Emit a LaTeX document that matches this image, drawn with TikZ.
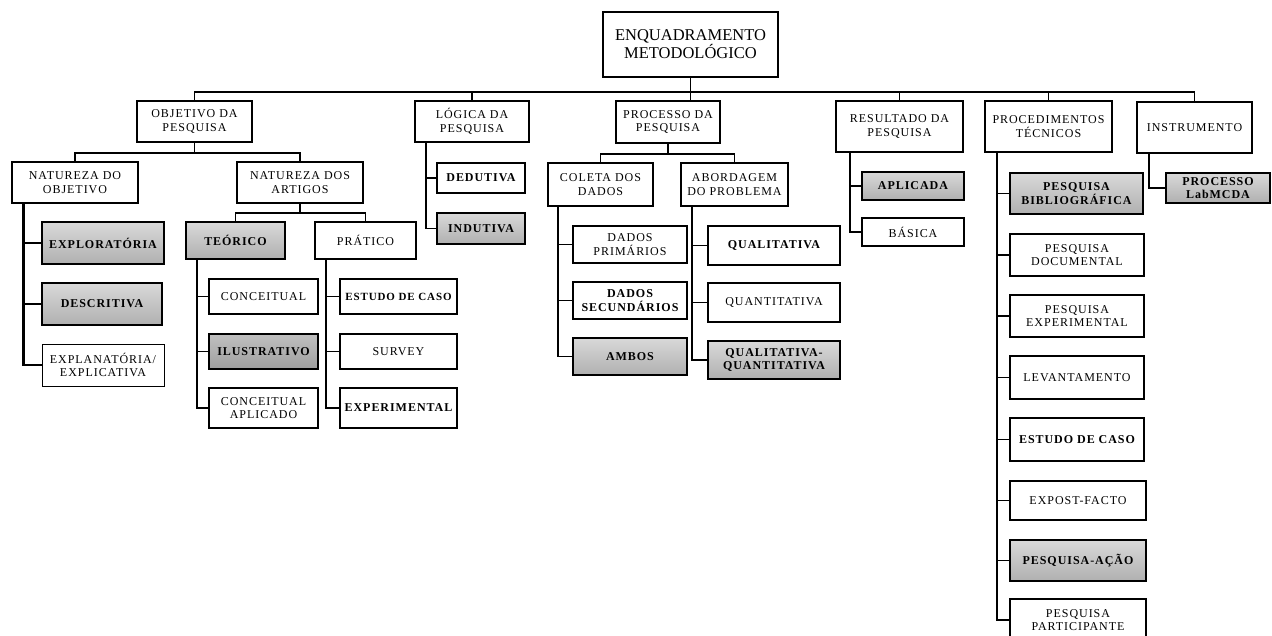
\documentclass[tikz,border=0pt]{standalone}
\usepackage{fontspec}
\setmainfont{Liberation Serif}
\newfontfamily\caixafont[LetterSpace=8]{Liberation Serif}
\usetikzlibrary{shadings}
\usepackage{xcolor}
\colorlet{cinzatopo}{gray!30!white}
\colorlet{cinzabase}{gray!62!white}
\colorlet{escurotopo}{gray!50!white}
\colorlet{escurobase}{gray!75!white}

\begin{document}
\begin{tikzpicture}[x=1pt,y=-1pt,
  caixa/.style={draw=black,line width=1.7pt,fill=white,align=center,inner sep=0pt,
    font=\caixafont\fontsize{12}{13.5}\selectfont},
  negrito/.style={caixa,font=\caixafont\bfseries\fontsize{12}{13.5}\selectfont},
  cinza/.style={negrito,line width=2pt,top color=cinzatopo,bottom color=cinzabase},
  cinzaescuro/.style={negrito,line width=2pt,top color=escurotopo,bottom color=escurobase},
  ligacao/.style={draw=black,line width=1.6pt},
  ligacaogrossa/.style={draw=black,line width=2.8pt}]

  \fill[white] (0,0) rectangle (1272,635);
  \useasboundingbox (0,0) rectangle (1272,635);

%  Raiz
  \node[caixa,minimum width=175pt,minimum height=65pt,font=\fontsize{16.5}{16}\selectfont] (root) at (690.5,44.5) {ENQUADRAMENTO\\METODOLÓGICO};
  \coordinate (barra) at (690.5,92);

%  Primeiro nivel
  \node[caixa,minimum width=115pt,minimum height=41pt] (obj) at (194.5,121.5) {OBJETIVO DA\\PESQUISA};
  \node[caixa,minimum width=114pt,minimum height=41pt] (log) at (472,121.5) {LÓGICA DA\\PESQUISA};
  \node[caixa,minimum width=104pt,minimum height=42pt] (proc) at (668,122) {PROCESSO DA\\PESQUISA};
  \node[caixa,minimum width=127pt,minimum height=51pt] (res) at (899.5,126.5) {RESULTADO DA\\PESQUISA};
  \node[caixa,minimum width=127pt,minimum height=51pt] (pt) at (1048.5,126.5) {PROCEDIMENTOS\\TÉCNICOS};
  \node[caixa,minimum width=115pt,minimum height=51pt] (inst) at (1194.5,127.5) {INSTRUMENTO};

  \draw[ligacao] (root.south) -- (barra);
  \draw[ligacao] (obj.north) |- (barra) -| (inst.north);
  \draw[ligacao] (log.north) -- (log.north |- barra);
  \draw[ligacao] (barra) -- (barra |- proc.north);
  \draw[ligacao] (res.north) -- (res.north |- barra);
  \draw[ligacao] (pt.north) -- (pt.north |- barra);

%  Objetivo da pesquisa
  \node[caixa,minimum width=126pt,minimum height=41pt] (nobj) at (75,182.5) {NATUREZA DO\\OBJETIVO};
  \node[caixa,minimum width=126pt,minimum height=41pt] (nart) at (300,182.5) {NATUREZA DOS\\ARTIGOS};
  \draw[ligacao] (obj.south) -- ++(0,10) coordinate (objb);
  \draw[ligacao] (nobj.north) |- (objb) -| (nart.north);

  \node[cinza,minimum width=122pt,minimum height=42pt] (expl) at (103,243) {EXPLORATÓRIA};
  \node[cinza,minimum width=120pt,minimum height=42pt] (desc) at (102,304) {DESCRITIVA};
  \node[caixa,line width=1pt,minimum width=122pt,minimum height=42pt] (expa) at (103,365) {EXPLANATÓRIA/\\EXPLICATIVA};
  \coordinate (nobje) at ([xshift=12pt]nobj.south west);
  \draw[ligacaogrossa] (nobje) |- (expa.west);
  \draw[ligacaogrossa] (expl.west) -- (expl.west -| nobje);
  \draw[ligacaogrossa] (desc.west) -- (desc.west -| nobje);

  \node[cinza,minimum width=99pt,minimum height=37pt] (teo) at (235.5,240.5) {TEÓRICO};
  \node[caixa,minimum width=101pt,minimum height=37pt] (pra) at (365.5,240.5) {PRÁTICO};
  \draw[ligacao] (nart.south) -- ++(0,9) coordinate (nartb);
  \draw[ligacao] (teo.north) |- (nartb) -| (pra.north);

  \node[caixa,minimum width=109pt,minimum height=35pt] (conc) at (263.5,296.5) {CONCEITUAL};
  \node[cinzaescuro,minimum width=109pt,minimum height=35pt] (ilus) at (263.5,351.5) {ILUSTRATIVO};
  \node[caixa,minimum width=109pt,minimum height=40pt] (capl) at (263.5,408) {CONCEITUAL\\APLICADO};
  \coordinate (teoe) at ([xshift=12pt]teo.south west);
  \draw[ligacao] (teoe) |- (capl.west);
  \draw[ligacao] (conc.west) -- (conc.west -| teoe);
  \draw[ligacao] (ilus.west) -- (ilus.west -| teoe);

  \node[negrito,minimum width=117pt,minimum height=35pt,font=\caixafont\bfseries\fontsize{11}{13.5}\selectfont] (est1) at (398.5,296.5) {ESTUDO DE CASO};
  \node[caixa,minimum width=117pt,minimum height=35pt] (surv) at (398.5,351.5) {SURVEY};
  \node[negrito,minimum width=117pt,minimum height=40pt] (expm) at (398.5,408) {EXPERIMENTAL};
  \coordinate (prae) at ([xshift=12pt]pra.south west);
  \draw[ligacao] (prae) |- (expm.west);
  \draw[ligacao] (est1.west) -- (est1.west -| prae);
  \draw[ligacao] (surv.west) -- (surv.west -| prae);

%  Logica da pesquisa
  \node[negrito,minimum width=88pt,minimum height=30pt] (ded) at (481,178) {DEDUTIVA};
  \node[cinza,minimum width=88pt,minimum height=31pt] (ind) at (481,228.5) {INDUTIVA};
  \coordinate (loge) at ([xshift=12pt]log.south west);
  \draw[ligacao] (loge) |- (ind.west);
  \draw[ligacao] (ded.west) -- (ded.west -| loge);

%  Processo da pesquisa
  \node[caixa,minimum width=105pt,minimum height=43pt] (col) at (600.5,184.5) {COLETA DOS\\DADOS};
  \node[caixa,minimum width=107pt,minimum height=43pt] (abo) at (734.5,184.5) {ABORDAGEM\\DO PROBLEMA};
  \draw[ligacao] (proc.south) -- ++(0,10) coordinate (procb);
  \draw[ligacao] (col.north) |- (procb) -| (abo.north);

  \node[caixa,minimum width=114pt,minimum height=37pt] (dpri) at (630,244.5) {DADOS\\PRIMÁRIOS};
  \node[negrito,minimum width=114pt,minimum height=37pt] (dsec) at (630,300.5) {DADOS\\SECUNDÁRIOS};
  \node[cinza,minimum width=114pt,minimum height=37pt] (amb) at (630,356.5) {AMBOS};
  \coordinate (cole) at ([xshift=11pt]col.south west);
  \draw[ligacao] (cole) |- (amb.west);
  \draw[ligacao] (dpri.west) -- (dpri.west -| cole);
  \draw[ligacao] (dsec.west) -- (dsec.west -| cole);

  \node[negrito,minimum width=132pt,minimum height=39pt] (qual) at (774,245.5) {QUALITATIVA};
  \node[caixa,minimum width=132pt,minimum height=39pt] (quan) at (774,302.5) {QUANTITATIVA};
  \node[cinza,minimum width=132pt,minimum height=38pt] (qq) at (774,360) {QUALITATIVA-\\QUANTITATIVA};
  \coordinate (aboe) at ([xshift=12pt]abo.south west);
  \draw[ligacao] (aboe) |- (qq.west);
  \draw[ligacao] (qual.west) -- (qual.west -| aboe);
  \draw[ligacao] (quan.west) -- (quan.west -| aboe);

%  Resultado da pesquisa
  \node[cinza,minimum width=102pt,minimum height=28pt] (apl) at (913,186) {APLICADA};
  \node[caixa,minimum width=102pt,minimum height=28pt] (bas) at (913,232) {BÁSICA};
  \coordinate (rese) at ([xshift=15pt]res.south west);
  \draw[ligacao] (rese) |- (bas.west);
  \draw[ligacao] (apl.west) -- (apl.west -| rese);

%  Procedimentos tecnicos
  \node[cinza,minimum width=133pt,minimum height=41pt] (bib) at (1076.5,193.5) {PESQUISA\\BIBLIOGRÁFICA};
  \node[caixa,minimum width=134pt,minimum height=42pt] (doc) at (1077,255) {PESQUISA\\DOCUMENTAL};
  \node[caixa,minimum width=134pt,minimum height=42pt] (exper) at (1077,316) {PESQUISA\\EXPERIMENTAL};
  \node[caixa,minimum width=134pt,minimum height=43pt] (lev) at (1077,377.5) {LEVANTAMENTO};
  \node[negrito,minimum width=134pt,minimum height=43pt] (est2) at (1077,439.5) {ESTUDO DE CASO};
  \node[caixa,minimum width=136pt,minimum height=39pt] (expf) at (1078,500.5) {EXPOST-FACTO};
  \node[cinza,minimum width=136pt,minimum height=41pt] (pac) at (1078,560.5) {PESQUISA-AÇÃO};
  \node[caixa,minimum width=136pt,minimum height=42pt] (ppar) at (1078,620) {PESQUISA\\PARTICIPANTE};
  \coordinate (pte) at ([xshift=13pt]pt.south west);
  \draw[ligacao] (pte) |- (ppar.west);
  \draw[ligacao] (bib.west) -- (bib.west -| pte);
  \draw[ligacao] (doc.west) -- (doc.west -| pte);
  \draw[ligacao] (exper.west) -- (exper.west -| pte);
  \draw[ligacao] (lev.west) -- (lev.west -| pte);
  \draw[ligacao] (est2.west) -- (est2.west -| pte);
  \draw[ligacao] (expf.west) -- (expf.west -| pte);
  \draw[ligacao] (pac.west) -- (pac.west -| pte);

%  Instrumento
  \node[cinza,minimum width=104pt,minimum height=30pt] (lab) at (1218,188) {PROCESSO\\LabMCDA};
  \coordinate (inste) at ([xshift=13pt]inst.south west);
  \draw[ligacao] (inste) |- (lab.west);

\end{tikzpicture}
\end{document}
